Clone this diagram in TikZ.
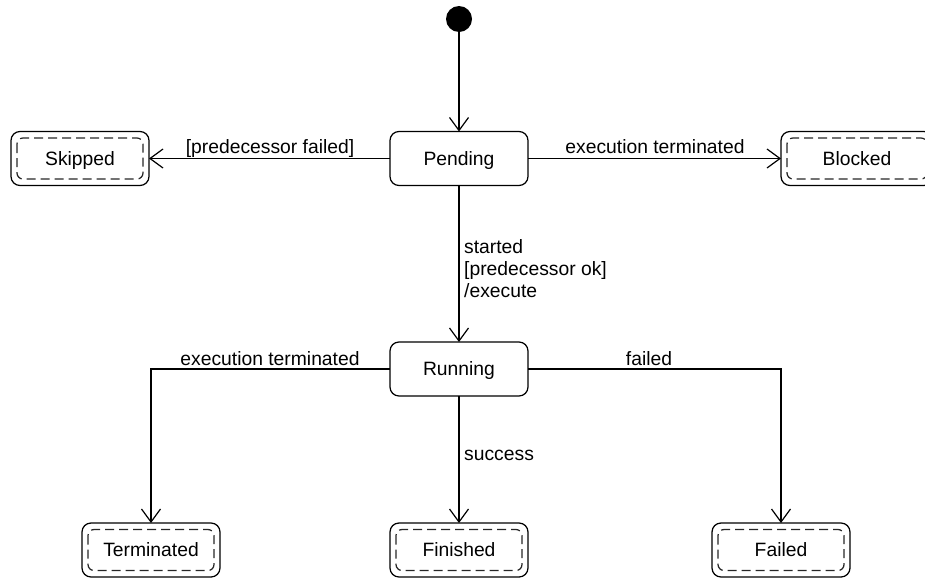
\documentclass[tikz,border=0pt]{standalone}
\usepackage{fontspec}
\setmainfont{Liberation Sans}
\usetikzlibrary{arrows.meta}

\tikzset{
  state/.style={draw, line width=1.25pt, rounded corners=9pt, minimum width=138pt,
    minimum height=54pt, outer sep=0pt, inner sep=0pt, font=\statefont,
    text height=13.8pt, text depth=0pt},
  finalstate/.style={state},
  innerdash/.style={draw=black!85, line width=1.25pt, dash pattern=on 9pt off 5pt, rounded corners=6pt},
  trans/.style={draw, line width=1.25pt, -{Straight Barb[length=13pt,width=19pt,line width=1.2pt]}},
  lbl/.style={inner sep=0pt, font=\statefont},
  startdot/.style={circle, fill, minimum size=26pt, inner sep=0pt}
}
\newcommand{\statefont}{\fontsize{19.3pt}{22pt}\selectfont}

\begin{document}
\begin{tikzpicture}[x=1pt, y=-1pt]
\useasboundingbox (0,0) rectangle (925,579);
\clip (0,0) rectangle (925,579);

% initial pseudo-state
\node[startdot] (init) at (459,19) {};

% states
\node[state] (pending) at (459,158.5) {Pending};
\node[state] (running) at (459,369) {Running};

% final-style states (double border)
\node[finalstate] (skipped) at (80,158.5) {Skipped};
\node[finalstate, minimum width=152pt] (blocked) at (857,158.5) {Blocked};
\node[finalstate] (terminated) at (151,550) {Terminated};
\node[finalstate] (finished) at (459,550) {Finished};
\node[finalstate] (failed) at (781,550) {Failed};

\foreach \n in {skipped,blocked,terminated,finished,failed}
  \draw[innerdash] ([xshift=6pt,yshift=-6.5pt]\n.north west) rectangle ([xshift=-6pt,yshift=6.5pt]\n.south east);

% transitions
\draw[trans] (init) -- (pending);
\draw[trans] (pending) -- (skipped);
\draw[trans] (pending) -- (blocked);
\draw[trans] (pending) -- (running);
\draw[trans] (running.west) -| (terminated.north);
\draw[trans] (running) -- (finished);
\draw[trans] (running.east) -| (failed.north);

% transition labels
\node[lbl, anchor=base] (lskip) at (270,153) {[predecessor failed]};
\node[lbl, anchor=base] (lblock) at (655,153) {execution terminated};
\node[lbl, anchor=north west, align=left] (lstart) at (464,239.5) {started\\{[predecessor ok]}\\/execute};
\node[lbl, anchor=base] (lterm) at (270,365) {execution terminated};
\node[lbl, anchor=base] (lfail) at (649,365) {failed};
\node[lbl, anchor=base west] (lsucc) at (464,460) {success};
\end{tikzpicture}
\end{document}
